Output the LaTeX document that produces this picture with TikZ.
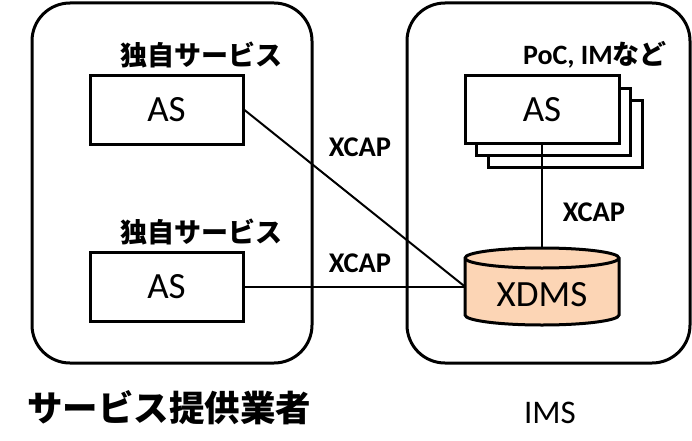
\documentclass[tikz,border=0pt]{standalone}
\usepackage{fontspec}
\setmainfont{Carlito}
\newfontfamily\jp{Noto Sans CJK JP}
\definecolor{peach}{HTML}{FCD5B5}
\begin{document}
\begin{tikzpicture}[x=1pt,y=1pt,
  group/.style={draw,line width=3pt,rounded corners=38pt},
  asbox/.style={draw,line width=3pt,fill=white,minimum width=153pt,minimum height=68pt,inner sep=0pt,font=\fontsize{37}{39}\selectfont},
  jplabel/.style={font=\jp\bfseries\fontsize{27}{29}\selectfont,inner sep=0pt},
  proto/.style={font=\bfseries\fontsize{28.5}{30}\selectfont,inner sep=0pt},
  conn/.style={line width=2pt},
  biglabel/.style={inner sep=0pt}]
\useasboundingbox (0,0) rectangle (692,440);
\draw[group] (32,437) rectangle (312,77);
\draw[group] (407,437) rectangle (690,77);
% left ASs
\node[asbox] (as1) at (166.5,330) {AS};
\node[jplabel] (l1) at (201,385) {独自サービス};
\node[asbox,minimum height=69pt] (as2) at (166.5,153.5) {AS};
\node[jplabel] (l2) at (201,208) {独自サービス};
% right AS stack
\node[asbox,minimum width=154pt,minimum height=67pt] (asr3) at (565.5,306) {};
\node[asbox,minimum width=154pt,minimum height=67pt] (asr2) at (553.5,318) {};
\node[asbox,minimum width=154pt,minimum height=67pt] (asr) at (542,330.5) {AS};
\node[proto,font=\bfseries\fontsize{28}{30}\selectfont] (lpoc) at (595,385) {PoC, IM{\jp\bfseries\fontsize{27}{29}\selectfont など}};
% XDMS cylinder
\node[minimum width=154pt,minimum height=77pt,inner sep=0pt] (xdms) at (542,153.5) {};
\draw[line width=3pt,fill=peach] (465,182) -- (465,125) arc[start angle=180,end angle=360,x radius=77,y radius=10] -- (619,182) arc[start angle=0,end angle=180,x radius=77,y radius=10] -- cycle;
\draw[line width=3pt] (465,182) arc[start angle=180,end angle=360,x radius=77,y radius=10];
\node[font=\fontsize{37}{39}\selectfont,inner sep=0pt] (xt) at (542,145) {XDMS};
% connectors
\draw[conn] (as1.east) -- (xdms.west);
\draw[conn] (as2.east) -- (xdms.west);
\draw[conn] (asr.south) -- (xdms.north);
\node[proto] (x1) at (360,293) {XCAP};
\node[proto] (x2) at (360,177) {XCAP};
\node[proto] (x3) at (594,228) {XCAP};
% bottom labels
\node[biglabel,font=\jp\bfseries\fontsize{35.5}{37}\selectfont] (prov) at (169,32) {サービス提供業者};
\node[biglabel,font=\fontsize{33}{35}\selectfont] (ims) at (550,27) {IMS};
\end{tikzpicture}
\end{document}
